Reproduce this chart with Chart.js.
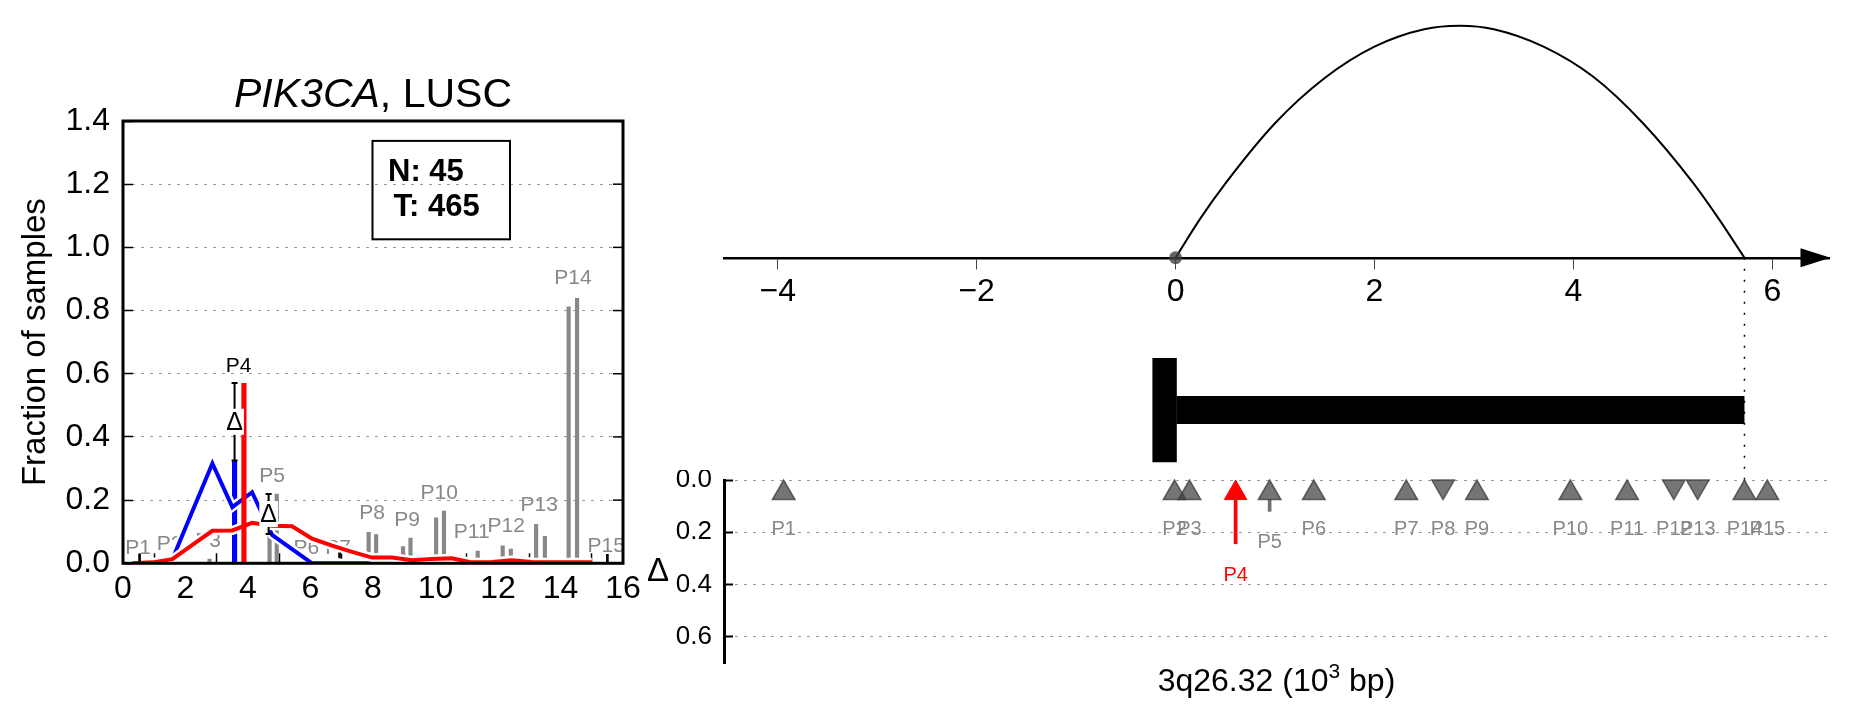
<!DOCTYPE html>
<html>
<head>
<meta charset="utf-8">
<script src="https://cdn.jsdelivr.net/npm/chart.js@4.4.0/dist/chart.umd.min.js"></script>
<style>
  html, body { margin: 0; padding: 0; background: #fff; }
  body { width: 1851px; height: 718px; position: relative; overflow: hidden; }
  canvas { position: absolute; }
</style>
</head>
<body>
<canvas id="profile" width="680" height="718" style="left:0;top:0"></canvas>
<canvas id="gene" width="1211" height="480" style="left:640px;top:0"></canvas>
<canvas id="peaks" width="1211" height="248" style="left:640px;top:470px"></canvas>
<script>
const FONT = "'Liberation Sans', Arial, Helvetica, sans-serif";
Chart.defaults.font.family = FONT;
Chart.defaults.animation = false;

// ---------- left panel ----------
const titleParts = ['PIK3CA', ', LUSC'];
const counts = ['N: 45', 'T: 465'];
const xTicksLeft = [0, 2, 4, 6, 8, 10, 12, 14, 16];
const yTicksLeft = [0, 0.2, 0.4, 0.6, 0.8, 1.0, 1.2, 1.4];

// density curves, normal (blue) and tumour (red)
const gridX = [0.3, 0.94, 1.58, 2.22, 2.86, 3.5, 4.13, 4.77, 5.41, 6.05, 6.69, 7.33,
               7.97, 8.61, 9.25, 9.89, 10.52, 11.16, 11.8, 12.44, 13.08, 13.72, 14.36, 15.0];
const normalFrac = [null, null, 0.013, 0.165, 0.316, 0.178, 0.225, 0.09, 0.045, 0, 0, 0,
                    0, 0, null, null, null, null, null, null, null, null, null, null];
const tumourFrac = [0, 0.003, 0.013, 0.058, 0.103, 0.104, 0.128, 0.119, 0.117, 0.078, 0.056, 0.036,
                    0.018, 0.018, 0.010, 0.014, 0.016, 0.003, 0.004, 0.010, 0.004, 0.003, 0.003, 0.003];

// peak bars (grey), P4 pair is coloured
const barX = [2.77, 4.69, 4.92, 7.86, 8.1, 8.96, 9.2, 10.02, 10.27, 11.35, 12.15, 12.41, 13.22, 13.5, 14.26, 14.53];
const barY = [0.013, 0.093, 0.219, 0.098, 0.091, 0.053, 0.08, 0.144, 0.165, 0.039, 0.055, 0.045, 0.123, 0.085, 0.812, 0.839];
const p4X = [3.57, 3.87];
const p4Y = [0.325, 0.57];

// delta error bars
const deltaX = [3.57, 4.66];
const deltaLow = [0.325, 0.093];
const deltaHigh = [0.571, 0.219];
const smallX = [0.53, 6.93, 15.5];
const smallLow = [0.005, 0.017, 0.005];
const smallHigh = [0.03, 0.033, 0.028];

const peakLabels = ['P1','P2','P3','P4','P5','P6','P7','P8','P9','P10','P11','P12','P13','P14','P15'];
const labelX = [0.48, 1.49, 2.72, 3.7, 4.77, 5.87, 6.88, 7.97, 9.09, 10.12, 11.16, 12.26, 13.32, 14.4, 15.46];
const labelY = [0.047, 0.059, 0.07, 0.625, 0.276, 0.047, 0.047, 0.158, 0.137, 0.221, 0.1, 0.116, 0.185, 0.903, 0.053];

// ---------- right panel ----------
const axisTicks = [-4, -2, 0, 2, 4, 6];
const arcX = [0, 0.25, 0.5, 1.0, 1.5, 2.0, 2.5, 2.86, 3.2, 3.7, 4.2, 4.7, 5.2, 5.45, 5.72];
const arcH = [0, 0.17, 0.32, 0.58, 0.775, 0.91, 0.985, 1, 0.985, 0.91, 0.78, 0.58, 0.325, 0.175, 0];
const geneSpan = [0.01, 5.72];
const geneCap = -0.11;

const peakPos = [-3.94, -0.01, 0.14, 0.604, 0.946, 1.39, 2.32, 2.69, 3.03, 3.97, 4.54, 5.01, 5.25, 5.72, 5.95];
const peakDir = [1, 1, 1, 1, 1, 1, 1, -1, 1, 1, 1, -1, -1, 1, 1];
const peakDelta = [0, 0, 0, 0.244, 0.12, 0, 0, 0, 0, 0, 0, 0, 0, 0, 0];
const deltaTicks = [0, 0.2, 0.4, 0.6];
const highlight = 3;

const X_MIN = -4.54, X_MAX = 6.57;
const GREY = 'rgba(64,64,64,0.72)';

// ================= left chart =================
const profileDecor = {
  id: 'profileDecor',
  beforeDatasetsDraw(chart) {
    const {ctx, scales: {x, y}} = chart;
    ctx.save();
    ctx.font = `21px ${FONT}`;
    ctx.textAlign = 'center';
    ctx.textBaseline = 'middle';
    peakLabels.forEach((t, i) => {
      ctx.fillStyle = i === highlight ? '#000' : '#888';
      ctx.fillText(t, x.getPixelForValue(labelX[i]), y.getPixelForValue(labelY[i]));
    });
    ctx.restore();
  },
  afterDatasetsDraw(chart) {
    const {ctx, chartArea: a, scales: {x, y}} = chart;
    ctx.save();
    // box
    ctx.strokeStyle = '#000';
    ctx.lineWidth = 3;
    ctx.strokeRect(a.left, a.top, a.right - a.left, a.bottom - a.top);
    ctx.lineWidth = 1.5;
    yTicksLeft.forEach(v => {
      const py = y.getPixelForValue(v);
      ctx.beginPath(); ctx.moveTo(a.right, py); ctx.lineTo(a.right - 10, py); ctx.stroke();
    });

    // delta bars with label
    deltaX.forEach((dx, i) => {
      const px = x.getPixelForValue(dx);
      const lo = y.getPixelForValue(deltaLow[i]);
      const hi = y.getPixelForValue(deltaHigh[i]);
      ctx.strokeStyle = '#000';
      ctx.lineWidth = 2;
      ctx.beginPath();
      ctx.moveTo(px, lo); ctx.lineTo(px, hi);
      ctx.moveTo(px - 3, lo); ctx.lineTo(px + 3, lo);
      ctx.moveTo(px - 3, hi); ctx.lineTo(px + 3, hi);
      ctx.stroke();
      const my = (lo + hi) / 2;
      ctx.font = `25px ${FONT}`;
      const w = ctx.measureText('Δ').width;
      ctx.fillStyle = '#fff';
      ctx.fillRect(px - w / 2 - 1, my - 13, w + 2, 26);
      ctx.fillStyle = '#000';
      ctx.textAlign = 'center';
      ctx.textBaseline = 'middle';
      ctx.fillText('Δ', px, my + 1);
    });

    // title
    const cx = (a.left + a.right) / 2;
    const by = a.top - 14;
    ctx.textBaseline = 'alphabetic';
    ctx.textAlign = 'left';
    ctx.font = `italic 41px ${FONT}`;
    const w1 = ctx.measureText(titleParts[0]).width;
    ctx.font = `41px ${FONT}`;
    const w2 = ctx.measureText(titleParts[1]).width;
    const sx = cx - (w1 + w2) / 2;
    ctx.fillStyle = '#000';
    ctx.font = `italic 41px ${FONT}`;
    ctx.fillText(titleParts[0], sx, by);
    ctx.font = `41px ${FONT}`;
    ctx.fillText(titleParts[1], sx + w1, by);

    // counts box
    const W = a.right - a.left, H = a.bottom - a.top;
    ctx.lineWidth = 2;
    ctx.strokeRect(a.left + 0.499 * W, a.top + 0.045 * H, 0.275 * W, 0.2225 * H);
    ctx.font = `bold 31px ${FONT}`;
    ctx.fillText(counts[0], a.left + 0.53 * W, a.top + 0.135 * H);
    ctx.fillText(counts[1], a.left + 0.541 * W, a.top + 0.215 * H);
    ctx.restore();
  }
};

const line = (xs, ys, color, width, order) => ({
  type: 'line',
  data: xs.map((x, i) => ({x, y: ys[i]})),
  borderColor: color, borderWidth: width, pointRadius: 0,
  tension: 0, clip: 0, order
});

new Chart(document.getElementById('profile'), {
  type: 'line',
  data: {
    datasets: [
      { type: 'bar', data: smallX.map((x, i) => ({x, y: [smallLow[i], smallHigh[i]]})),
        backgroundColor: '#000', barThickness: 2, grouped: false, order: 1 },
      { type: 'bar', data: [{x: p4X[1], y: p4Y[1]}],
        backgroundColor: '#ff0000', barThickness: 4.5, grouped: false, order: 2 },
      line(gridX, tumourFrac, '#ff0000', 4, 3),
      line(gridX, tumourFrac, '#ffffff', 9, 4),
      line(gridX, normalFrac, '#0000ff', 4, 5),
      line(gridX, normalFrac, '#ffffff', 9, 6),
      { type: 'bar', data: [{x: p4X[0], y: p4Y[0]}],
        backgroundColor: '#0000ff', barThickness: 4.5, grouped: false, order: 7 },
      { type: 'bar', data: barX.map((x, i) => ({x, y: barY[i]})),
        backgroundColor: '#888888', barThickness: 3.5, grouped: false, order: 8 }
    ]
  },
  options: {
    responsive: false,
    layout: { autoPadding: false, padding: { left: 0, top: 121, right: 57, bottom: 94.7 } },
    plugins: { legend: { display: false }, tooltip: { enabled: false } },
    scales: {
      x: {
        type: 'linear', min: 0, max: 16, offset: false,
        afterBuildTicks: s => { s.ticks = xTicksLeft.map(v => ({value: v})); },
        afterFit: s => { s.height = 60; s.paddingLeft = 0; s.paddingRight = 0; },
        border: { display: false },
        grid: { drawOnChartArea: false, tickLength: -10, tickColor: '#000', tickWidth: 1.5, tickBorderDash: [] },
        ticks: { color: '#000', font: { size: 32 }, padding: 16.5, maxRotation: 0, autoSkip: false }
      },
      y: {
        min: 0, max: 1.4,
        afterBuildTicks: s => { s.ticks = yTicksLeft.map(v => ({value: v})); },
        afterFit: s => { s.width = 123; s.paddingTop = 0; s.paddingBottom = 0; },
        border: { display: false, dash: [3, 6] },
        grid: { color: '#999', lineWidth: 1, tickLength: -10, tickColor: '#000', tickWidth: 1.5, tickBorderDash: [] },
        ticks: { color: '#000', font: { size: 32 }, padding: 23, callback: v => v.toFixed(1) },
        title: { display: true, text: 'Fraction of samples', color: '#000', font: { size: 33 }, padding: { top: 16, bottom: 0 } }
      }
    }
  },
  plugins: [profileDecor]
});

// ================= right top: coordinate line and gene =================
const geneDecor = {
  id: 'geneDecor',
  afterDatasetsDraw(chart) {
    const {ctx, chartArea: a, scales: {y}} = chart;
    const py = y.getPixelForValue(0);
    const tip = a.right + 1.5;
    ctx.save();
    ctx.fillStyle = '#000';
    ctx.beginPath();
    ctx.moveTo(tip, py);
    ctx.lineTo(tip - 30, py - 9.5);
    ctx.lineTo(tip - 30, py + 9.5);
    ctx.closePath();
    ctx.fill();
    ctx.restore();
  }
};

new Chart(document.getElementById('gene'), {
  type: 'line',
  data: {
    datasets: [
      { data: [{x: 0, y: 0}], showLine: false, pointRadius: 6.5, pointBackgroundColor: 'rgba(64,64,64,0.8)',
        pointBorderWidth: 0, clip: false },
      { data: arcX.map((x, i) => ({x, y: arcH[i]})), borderColor: '#000', borderWidth: 2,
        pointRadius: 0, cubicInterpolationMode: 'monotone' },
      { data: [{x: geneSpan[1], y: 0}, {x: geneSpan[1], y: -0.958}], borderColor: '#000',
        borderWidth: 1.5, borderDash: [2, 9], pointRadius: 0 },
      { data: [{x: geneSpan[0], y: -0.656}, {x: geneSpan[1], y: -0.656}], borderColor: '#000',
        borderWidth: 28, borderCapStyle: 'butt', pointRadius: 0 },
      { data: [{x: geneCap, y: -0.432}, {x: geneCap, y: -0.881}], borderColor: '#000',
        borderWidth: 24.4, borderCapStyle: 'butt', pointRadius: 0 }
    ]
  },
  options: {
    responsive: false,
    layout: { autoPadding: false, padding: { left: 84, top: 10, right: 22, bottom: 0 } },
    plugins: { legend: { display: false }, tooltip: { enabled: false } },
    scales: {
      x: {
        type: 'linear', min: X_MIN, max: X_MAX, position: { y: 0 },
        afterBuildTicks: s => { s.ticks = axisTicks.map(v => ({value: v})); },
        afterFit: s => { s.height = 0; s.paddingLeft = 0; s.paddingRight = 0; },
        border: { display: true, color: '#000', width: 2.5 },
        grid: { drawOnChartArea: false, tickLength: 10, tickColor: '#444', tickWidth: 1 },
        ticks: { color: '#000', font: { size: 32 }, padding: 5, maxRotation: 0, autoSkip: false,
                 callback: v => String(v).replace('-', '\u2212') }
      },
      y: { display: false, min: -0.958, max: 1.068 }
    }
  },
  plugins: [geneDecor]
});

// ================= right bottom: peak deltas =================
const peaksDecor = {
  id: 'peaksDecor',
  afterDatasetsDraw(chart) {
    const {ctx, chartArea: a, scales: {x, y}} = chart;
    ctx.save();
    ctx.font = `20px ${FONT}`;
    ctx.textAlign = 'center';
    ctx.textBaseline = 'middle';
    peakLabels.forEach((t, i) => {
      ctx.fillStyle = i === highlight ? '#ff0000' : '#888';
      ctx.fillText(t, x.getPixelForValue(peakPos[i]), y.getPixelForValue(Math.max(peakDelta[i], 0.07) + 0.12));
    });
    // axis label
    ctx.fillStyle = '#000';
    ctx.font = `33px ${FONT}`;
    ctx.fillText('Δ', a.left - 66, (a.top + a.bottom) / 2);
    // x title with superscript
    const parts = ['3q26.32 (10', '3', ' bp)'];
    ctx.textBaseline = 'alphabetic';
    ctx.textAlign = 'left';
    ctx.font = `32px ${FONT}`;
    const wa = ctx.measureText(parts[0]).width, wc = ctx.measureText(parts[2]).width;
    ctx.font = `21px ${FONT}`;
    const wb = ctx.measureText(parts[1]).width;
    const sx = (a.left + a.right) / 2 - (wa + wb + wc) / 2;
    const by = a.bottom + 28;
    ctx.font = `32px ${FONT}`;
    ctx.fillText(parts[0], sx, by);
    ctx.font = `21px ${FONT}`;
    ctx.fillText(parts[1], sx + wa, by - 13);
    ctx.font = `32px ${FONT}`;
    ctx.fillText(parts[2], sx + wa + wb, by);
    ctx.restore();
  }
};

const idx = peakPos.map((_, i) => i);
const upIdx = idx.filter(i => peakDir[i] > 0 && i !== highlight);
const downIdx = idx.filter(i => peakDir[i] < 0);
const stemIdx = idx.filter(i => peakDelta[i] > 0);

new Chart(document.getElementById('peaks'), {
  type: 'line',
  data: {
    datasets: [
      { data: [{x: peakPos[highlight], y: 0.05}], showLine: false, pointStyle: 'triangle', pointRadius: 13,
        pointBackgroundColor: '#ff0000', pointBorderColor: '#ff0000', pointBorderWidth: 1, clip: false },
      { data: upIdx.map(i => ({x: peakPos[i], y: 0.05})), showLine: false, pointStyle: 'triangle', pointRadius: 13,
        pointBackgroundColor: GREY, pointBorderColor: 'rgba(64,64,64,0.8)', pointBorderWidth: 1.5, clip: false },
      { data: downIdx.map(i => ({x: peakPos[i], y: 0.025})), showLine: false, pointStyle: 'triangle', pointRotation: 180,
        pointRadius: 13, pointBackgroundColor: GREY, pointBorderColor: 'rgba(64,64,64,0.8)', pointBorderWidth: 1.5, clip: false },
      { type: 'bar', data: stemIdx.map(i => ({x: peakPos[i], y: [0.075, peakDelta[i]]})),
        backgroundColor: stemIdx.map(i => i === highlight ? '#ff0000' : 'rgba(64,64,64,0.75)'),
        barThickness: 3, grouped: false }
    ]
  },
  options: {
    responsive: false,
    layout: { autoPadding: false, padding: { left: 0, top: 10, right: 22, bottom: 55 } },
    plugins: { legend: { display: false }, tooltip: { enabled: false } },
    scales: {
      x: { type: 'linear', min: X_MIN, max: X_MAX, display: false, offset: false },
      y: {
        min: 0, max: 0.7, reverse: true,
        afterBuildTicks: s => { s.ticks = deltaTicks.map(v => ({value: v})); },
        afterFit: s => { s.width = 84; s.paddingTop = 0; s.paddingBottom = 0; },
        border: { display: true, color: '#000', width: 3, dash: [3, 6] },
        grid: { color: '#999', lineWidth: 1, tickLength: -9, tickColor: '#000', tickWidth: 2, tickBorderDash: [] },
        ticks: { color: '#000', font: { size: 26 }, padding: 21, callback: v => v.toFixed(1) }
      }
    }
  },
  plugins: [peaksDecor]
});
</script>
</body>
</html>
